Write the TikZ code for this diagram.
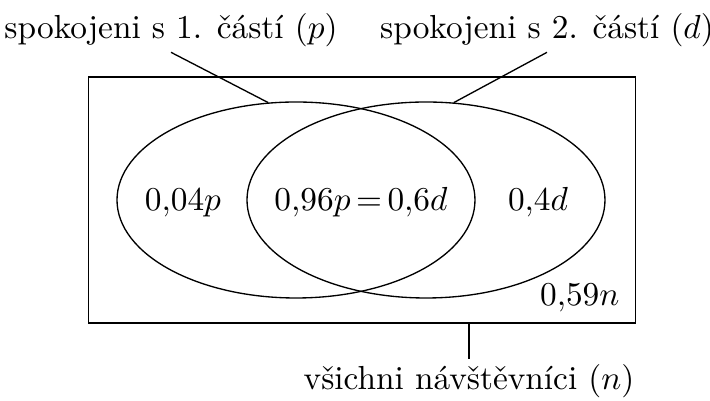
\documentclass[tikz,border=0pt]{standalone}
\usepackage{fontspec}
\usetikzlibrary{shapes.geometric}

\tikzset{
  mnozina/.style={draw, ellipse, minimum width=107.4pt, minimum height=58.8pt},
  popis/.style={inner sep=1.5pt},
}

\begin{document}
\begin{tikzpicture}[x=0.3pt, y=-0.3pt]
    \useasboundingbox (0,0) rectangle (710,401);
    % navstevnici a obe mnoziny
    \node[draw, minimum width=164.1pt, minimum height=73.8pt] (vsichni) at (362,200) {};
    \node[mnozina] (prvni) at (296,200) {};
    \node[mnozina] (druha) at (426,200) {};
    \node[anchor=base] (jen1) at (183,211) {$0{,}04p$};
    \node[anchor=base] (obe) at (361,211) {$0{,}96p\,{=}\,0{,}6d$};
    \node[anchor=base] (jen2) at (538,211) {$0{,}4d$};
    \node[anchor=south east, xshift=-1.5pt] (zadna) at (vsichni.south east) {$0{,}59n$};
    % popisky
    \node[popis] (cast1) at (171,30) {spokojeni s 1. částí $(p)$};
    \node[popis] (cast2) at (547,30) {spokojeni s 2. částí $(d)$};
    \node[popis] (navst) at (469,381) {všichni návštěvníci $(n)$};
    \draw (cast1.south) -- (prvni.106);
    \draw (cast2.south) -- (druha.74);
    \draw (vsichni.south -| navst.north) -- (navst.north);
\end{tikzpicture}
\end{document}
